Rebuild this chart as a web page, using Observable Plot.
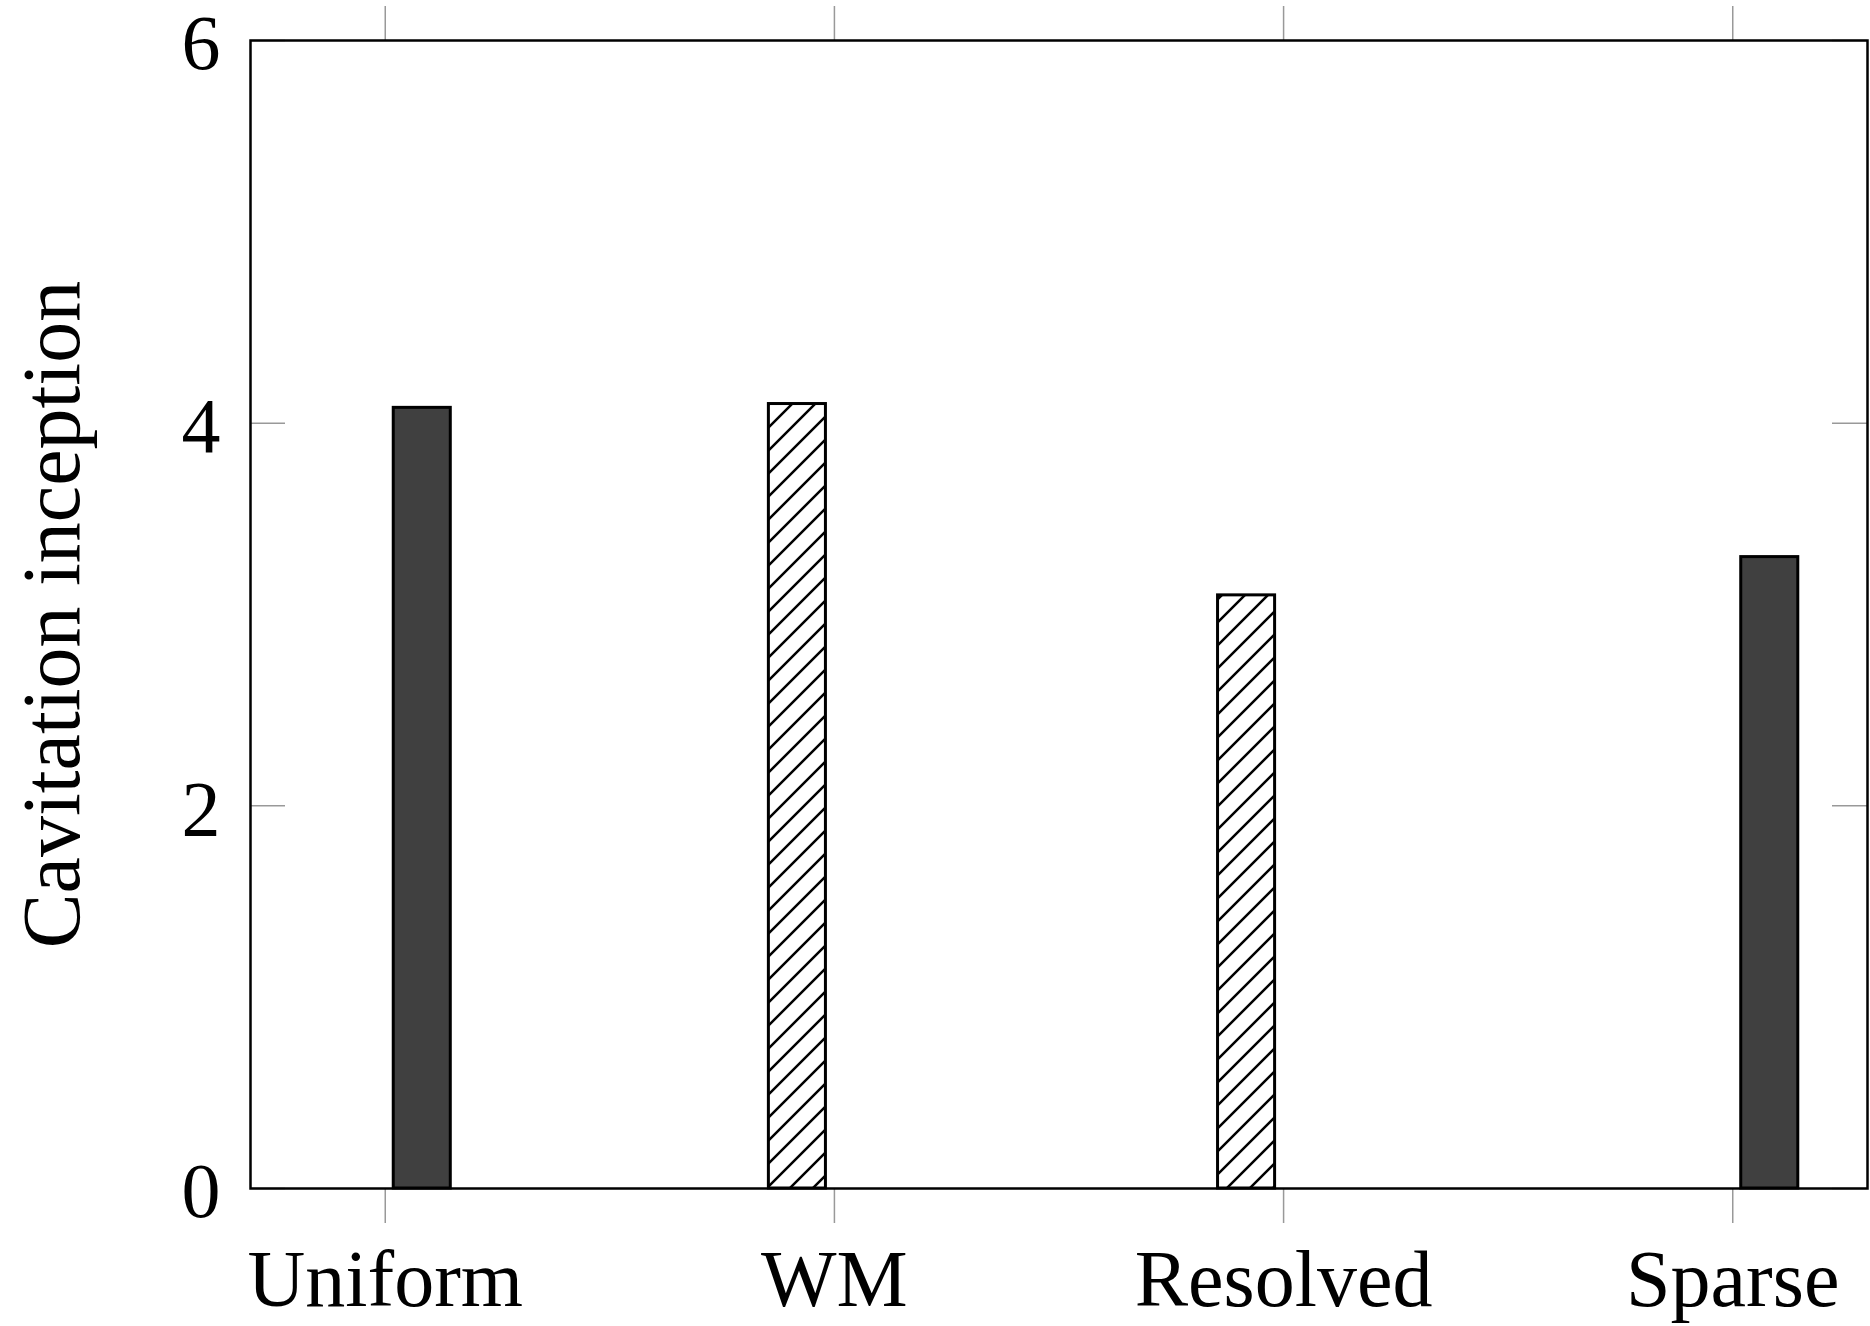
<!DOCTYPE html>
<html>
<head>
<meta charset="utf-8">
<script src="https://cdn.jsdelivr.net/npm/d3@7"></script>
<script src="https://cdn.jsdelivr.net/npm/@observablehq/plot@0.6"></script>
<style>
  html, body { margin: 0; padding: 0; background: #fff; }
</style>
</head>
<body>
<div id="chart"></div>
<script>
const categories = ["Uniform", "WM", "Resolved", "Sparse"];
const hatchedValues = [0, 4.1, 3.1, 0];
const solidValues = [4.08, 0, 0, 3.3];
const yTicks = [0, 2, 4, 6];
const yLabel = "Cavitation inception";

const off = 0.0824, hw = 0.0635;
const rows = [];
categories.forEach((c, i) => {
  rows.push({i, v: hatchedValues[i], side: -1, kind: "hatched"});
  rows.push({i, v: solidValues[i], side: 1, kind: "solid"});
});
rows.forEach(d => { d.x1 = d.i + d.side * off - hw; d.x2 = d.i + d.side * off + hw; });

const W = 1870, H = 1326;
const mL = 250, mR = 3, mT = 40, mB = 138;
const frameW = W - mL - mR;

const svg = Plot.plot({
  width: W,
  height: H,
  marginLeft: mL,
  marginRight: mR,
  marginTop: mT,
  marginBottom: mB,
  style: {fontFamily: "'Liberation Serif', serif", fontSize: "80px", background: "white", color: "black"},
  x: {type: "linear", domain: [-0.3, 3.3]},
  y: {domain: [0, 6]},
  marks: [
    Plot.rect(rows.filter(d => d.kind === "hatched"), {x1: "x1", x2: "x2", y1: 0, y2: "v", fill: "url(#hatch)", stroke: "black", strokeWidth: 3}),
    Plot.rect(rows.filter(d => d.kind === "solid"), {x1: "x1", x2: "x2", y1: 0, y2: "v", fill: "#404040", stroke: "black", strokeWidth: 3}),
    Plot.tickY(yTicks, {y: d => d, insetRight: frameW - 35, stroke: "#999", strokeWidth: 1.5}),
    Plot.tickY(yTicks, {y: d => d, insetLeft: frameW - 35, stroke: "#999", strokeWidth: 1.5}),
    Plot.axisX({anchor: "bottom", ticks: [0, 1, 2, 3], tickSize: 35, tickPadding: 26, stroke: "#999", strokeWidth: 1.5, fill: "black", tickFormat: i => categories[i], label: null, fontSize: 80}),
    Plot.axisX({anchor: "top", ticks: [0, 1, 2, 3], tickSize: 35, stroke: "#999", strokeWidth: 1.5, tickFormat: () => "", label: null}),
    Plot.axisY({anchor: "left", ticks: yTicks, tickSize: 0, tickPadding: 30, dy: 4, fill: "black", label: null, fontSize: 78, tickFormat: d => String(d)}),
    Plot.text([yLabel], {frameAnchor: "left", text: d => d, rotate: -90, dx: -172, lineAnchor: "bottom", textAnchor: "middle", fontSize: 82, fill: "black"}),
    Plot.frame({stroke: "black", strokeWidth: 2.5})
  ]
});

d3.select(svg).insert("defs", ":first-child").html(
  '<pattern id="hatch" patternUnits="userSpaceOnUse" width="23" height="23">' +
  '<rect width="23" height="23" fill="white"/>' +
  '<path d="M0,23 L23,0 M-2,2 L2,-2 M21,25 L25,21" stroke="black" stroke-width="2.5"/>' +
  '</pattern>'
);

document.getElementById("chart").appendChild(svg);
</script>
</body>
</html>
